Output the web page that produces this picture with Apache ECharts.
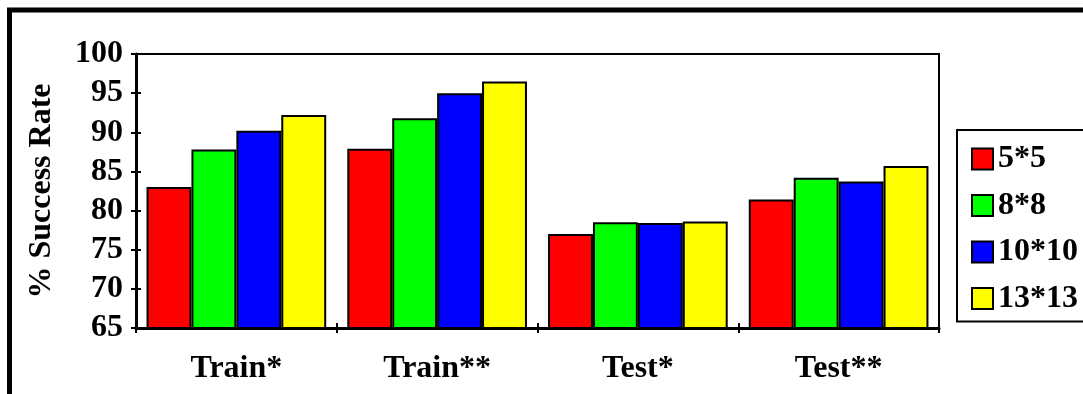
<!DOCTYPE html>
<html>
<head>
<meta charset="utf-8">
<script src="https://cdn.jsdelivr.net/npm/echarts@6/dist/echarts.min.js"></script>
<style>html,body{margin:0;padding:0;background:#fff}#c{width:1083px;height:394px}</style>
</head>
<body>
<div id="c"></div>
<script>
var categories = ['Train*', 'Train**', 'Test*', 'Test**'];
var seriesNames = ['5*5', '8*8', '10*10', '13*13'];
var s5x5 = [83.0, 87.9, 77.0, 81.4];
var s8x8 = [87.8, 91.8, 78.5, 84.2];
var s10x10 = [90.2, 95.0, 78.4, 83.7];
var s13x13 = [92.2, 96.5, 78.6, 85.7];
var colors = ['#ff0000', '#00ff00', '#0000ff', '#ffff00'];
var yMin = 65, yMax = 100, yStep = 5;

var FONT = 'Liberation Serif';
var FS = 32;
var allValues = [s5x5, s8x8, s10x10, s13x13];
var series = seriesNames.map(function (n, i) {
  return {
    name: n, type: 'bar', data: allValues[i],
    barGap: '0%', barCategoryGap: '10.5%',
    itemStyle: { color: colors[i], borderColor: '#000', borderWidth: 2 },
    emphasis: { disabled: true }
  };
});

var chart = echarts.init(document.getElementById('c'), null, { renderer: 'canvas' });
chart.setOption({
  animation: false,
  backgroundColor: '#fff',
  textStyle: { fontFamily: FONT },
  grid: { left: 136, right: 144, top: 54, bottom: 66, show: true, borderColor: '#000', borderWidth: 2, backgroundColor: 'transparent' },
  legend: {
    orient: 'vertical', left: 957, top: 130,
    data: seriesNames,
    icon: 'rect', itemWidth: 21, itemHeight: 21, itemGap: 14.5,
    padding: [13, 14, 7, 14],
    borderColor: '#000', borderWidth: 2,
    itemStyle: { borderColor: '#000', borderWidth: 2 },
    textStyle: { fontFamily: FONT, fontWeight: 'bold', fontSize: FS, color: '#000' },
    selectedMode: false
  },
  xAxis: [{
    type: 'category', data: categories, position: 'bottom',
    axisLine: { lineStyle: { color: '#000', width: 3 } },
    axisTick: { show: true, length: 5, lineStyle: { color: '#000', width: 2 } },
    axisLabel: { fontFamily: FONT, fontWeight: 'bold', fontSize: FS, color: '#000', margin: 25 }
  }, {
    type: 'category', data: categories, position: 'bottom',
    axisLine: { show: false },
    axisTick: { show: true, inside: true, length: 5, lineStyle: { color: '#000', width: 2 } },
    axisLabel: { show: false }
  }],
  yAxis: [{
    type: 'value', min: yMin, max: yMax, interval: yStep, position: 'left',
    name: '% Success Rate', nameLocation: 'middle', nameGap: 78, nameRotate: 90,
    nameTextStyle: { fontFamily: FONT, fontWeight: 'bold', fontSize: FS, color: '#000' },
    axisLine: { show: true, lineStyle: { color: '#000', width: 3 } },
    axisTick: { show: true, length: 5, lineStyle: { color: '#000', width: 2 } },
    axisLabel: { fontFamily: FONT, fontWeight: 'bold', fontSize: FS, color: '#000', margin: 13 },
    splitLine: { show: false }
  }, {
    type: 'value', min: yMin, max: yMax, interval: yStep, position: 'left', offset: 0,
    axisLine: { show: false },
    axisTick: { show: true, inside: true, length: 5, lineStyle: { color: '#000', width: 2 } },
    axisLabel: { show: false },
    splitLine: { show: false }
  }],
  series: series,
  graphic: [{
    type: 'rect', silent: true, z: 100,
    shape: { x: 9.5, y: 10, width: 1200, height: 600 },
    style: { fill: 'none', stroke: '#000', lineWidth: 5 }
  }]
});
</script>
</body>
</html>
